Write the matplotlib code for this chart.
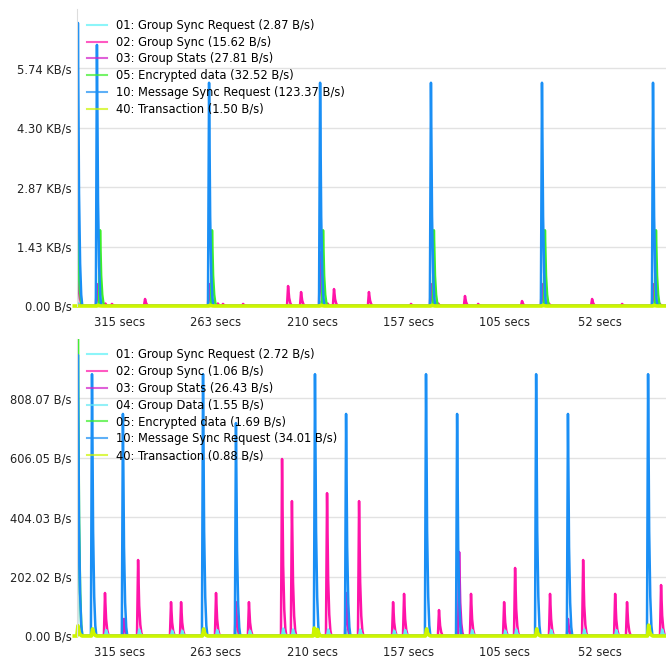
import numpy as np
import matplotlib
matplotlib.use('Agg')
import matplotlib.pyplot as plt

# x axis is "seconds ago" (reversed), tick values
x_ticks = [315, 262.5, 210, 157.5, 105, 52.5]
x_tick_labels = ['315 secs', '263 secs', '210 secs', '157 secs', '105 secs', '52 secs']

# top chart - spikes as (seconds ago, B/s)
top_labels = ['01: Group Sync Request (2.87 B/s)', '02: Group Sync (15.62 B/s)',
              '03: Group Stats (27.81 B/s)', '05: Encrypted data (32.52 B/s)',
              '10: Message Sync Request (123.37 B/s)', '40: Transaction (1.50 B/s)']
top_01 = [(337.5, 60), (327.0, 110), (265.7, 100), (205.0, 100), (144.4, 100), (83.7, 100), (23.0, 100)]
top_02 = [(338.0, 1150), (323.0, 60), (319.4, 50), (301.3, 169), (261.5, 60), (258.7, 50),
          (247.7, 50), (223.1, 482), (216.0, 337), (201.5, 60), (198.0, 409), (178.9, 337),
          (155.9, 50), (141.0, 60), (126.4, 241), (119.2, 50), (95.2, 120), (80.5, 60),
          (56.9, 169), (40.5, 50), (20.0, 60)]
top_03 = [(327.6, 530), (266.3, 530), (205.6, 1300), (145.0, 530), (84.3, 530), (23.6, 530)]
top_05 = [(338.0, 2335), (325.9, 1830), (264.7, 1830), (204.0, 1830), (143.4, 1830), (82.7, 1830), (22.0, 1830)]
top_10 = [(338.0, 6838), (327.6, 6308), (266.3, 5393), (205.6, 5393), (145.0, 5393), (84.3, 5393), (23.6, 5393)]
top_40 = [(327.0, 20), (265.7, 20), (205.0, 20), (144.4, 20), (83.7, 20), (23.0, 20)]
top_yticks = [0, 1435, 2870, 4305, 5740]
top_yticklabels = ['0.00 B/s', '1.43 KB/s', '2.87 KB/s', '4.30 KB/s', '5.74 KB/s']
top_ymax = 7175

# bottom chart
bot_labels = ['01: Group Sync Request (2.72 B/s)', '02: Group Sync (1.06 B/s)',
              '03: Group Stats (26.43 B/s)', '04: Group Data (1.55 B/s)',
              '05: Encrypted data (1.69 B/s)', '10: Message Sync Request (34.01 B/s)',
              '40: Transaction (0.88 B/s)']
bot_01 = [(337.5, 20), (329.7, 25), (312.8, 22), (269.0, 25), (251.0, 22), (207.8, 25),
          (190.8, 22), (147.1, 25), (130.1, 22), (86.9, 25), (69.5, 22), (25.7, 25)]
bot_02 = [(323.2, 146), (305.1, 258), (287.1, 115), (281.6, 115), (262.5, 146), (251.6, 115),
          (244.5, 115), (226.4, 601), (221.0, 458), (201.8, 485), (184.3, 458), (165.7, 115),
          (159.7, 143), (140.6, 88), (123.1, 143), (105.0, 115), (99.0, 231), (79.9, 143),
          (61.8, 258), (44.3, 143), (37.8, 115), (19.2, 173)]
bot_03 = [(312.8, 58), (191.4, 146), (129.6, 285), (70.1, 58)]
bot_04 = [(322.6, 20), (304.5, 22), (286.5, 18), (281.0, 18), (261.9, 20), (244.0, 18),
          (225.8, 25), (220.4, 22), (201.2, 22), (183.7, 22), (165.1, 18), (159.1, 20),
          (122.5, 20), (104.4, 18), (98.4, 22), (79.3, 20), (61.2, 22), (43.7, 20), (18.6, 22)]
bot_05 = [(338.0, 1010), (329.7, 12), (269.0, 12), (207.8, 12), (147.1, 12), (86.9, 12), (25.7, 12)]
bot_10 = [(338.0, 954), (330.3, 889), (313.4, 754), (269.6, 889), (251.6, 723), (208.4, 889),
          (191.4, 754), (147.7, 889), (130.7, 754), (87.5, 889), (70.1, 754), (26.3, 889)]
bot_40 = [(338.0, 35), (330.0, 24), (269.3, 24), (208.8, 27), (207.0, 22), (147.4, 24),
          (87.2, 24), (26.0, 37)]
bot_yticks = [0, 202.02, 404.03, 606.05, 808.07]
bot_yticklabels = ['0.00 B/s', '202.02 B/s', '404.03 B/s', '606.05 B/s', '808.07 B/s']
bot_ymax = 1010.1

colors = {'01': '#5cf2f7', '02': '#ff14a8', '03': '#d21ec8', '04': '#66eaf5',
          '05': '#3cef2a', '10': '#1a8ff5', '40': '#ccf500'}

# shape of one spike in the line (offset in secs, fraction of peak)
shape_dt = np.array([0.6, 0.0, -0.6, -1.2, -1.8, -2.4])
shape_f = np.array([0.0, 1.0, 0.4, 0.15, 0.04, 0.0])


def spike_line(spikes):
    xs = [340.0]
    ys = [0.0]
    for t, h in sorted(spikes, reverse=True):
        xs.extend(t + shape_dt)
        ys.extend(h * shape_f)
    xs.append(10.0)
    ys.append(0.0)
    return np.array(xs), np.array(ys)


def setup(ax, yticks, yticklabels, ymax):
    ax.set_xlim(338.5, 16.5)
    ax.set_ylim(0, ymax)
    ax.set_yticks(yticks)
    ax.set_yticklabels(yticklabels)
    ax.set_xticks(x_ticks)
    ax.set_xticklabels(x_tick_labels)
    ax.tick_params(length=0, labelsize=8.3, colors='#222222')
    ax.tick_params(axis='x', pad=7.5)
    ax.tick_params(axis='y', pad=4)
    ax.grid(axis='y', color='#e2e2e2', lw=1)
    ax.set_axisbelow(True)
    for s in ['top', 'right', 'bottom']:
        ax.spines[s].set_visible(False)
    ax.spines['left'].set_color('#dddddd')


fig = plt.figure(figsize=(6.66, 6.59), dpi=100)
ax1 = fig.add_axes([77 / 666, 353 / 659, 589 / 666, 297 / 659])
ax2 = fig.add_axes([77 / 666, 23 / 659, 589 / 666, 297.5 / 659])

top_series = [('01', top_01), ('02', top_02), ('03', top_03), ('05', top_05), ('10', top_10), ('40', top_40)]
for (key, sp), lab in zip(top_series, top_labels):
    x, y = spike_line(sp)
    lw = 2.6 if key == '40' else 1.8
    ax1.plot(x, y, color=colors[key], lw=lw, label=lab, clip_on=(key != '40'))

bot_series = [('01', bot_01), ('02', bot_02), ('03', bot_03), ('04', bot_04), ('05', bot_05),
              ('10', bot_10), ('40', bot_40)]
for (key, sp), lab in zip(bot_series, bot_labels):
    x, y = spike_line(sp)
    lw = 2.6 if key == '40' else 1.8
    ax2.plot(x, y, color=colors[key], lw=lw, label=lab, clip_on=(key != '40'))

setup(ax1, top_yticks, top_yticklabels, top_ymax)
setup(ax2, bot_yticks, bot_yticklabels, bot_ymax)

for ax in [ax1, ax2]:
    leg = ax.legend(loc='upper left', bbox_to_anchor=(0.017, 0.967), frameon=False,
                    fontsize=8.3, handlelength=1.75, handletextpad=0.8, labelspacing=0.33,
                    borderpad=0, borderaxespad=0)
    for h in leg.get_lines():
        h.set_alpha(0.7)
        h.set_linewidth(1.5)

fig.savefig('out.png', dpi=100)
